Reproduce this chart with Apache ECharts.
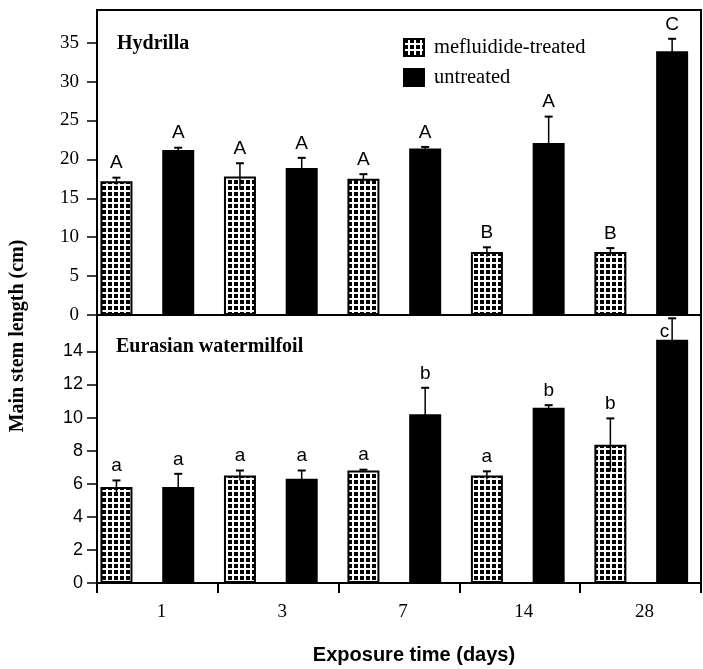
<!DOCTYPE html>
<html>
<head>
<meta charset="utf-8">
<script src="https://cdn.jsdelivr.net/npm/echarts@6/dist/echarts.min.js"></script>
<style>
  html, body { margin: 0; padding: 0; background: #fff; }
  #chart { width: 703px; height: 669px; }
</style>
</head>
<body>
<div id="chart"></div>
<script>
// exposure time (days)
var categories = ["1", "3", "7", "14", "28"];

// Hydrilla (cm)
var hydTreated = [17.2, 17.8, 17.5, 8.1, 8.1];
var hydTreatedErr = [0.45, 1.7, 0.6, 0.6, 0.5];
var hydTreatedSig = ["A", "A", "A", "B", "B"];
var hydUntreated = [21.2, 18.9, 21.4, 22.1, 33.9];
var hydUntreatedErr = [0.3, 1.3, 0.2, 3.4, 1.6];
var hydUntreatedSig = ["A", "A", "A", "A", "C"];

// Eurasian watermilfoil (cm)
var milTreated = [5.8, 6.5, 6.8, 6.5, 8.35];
var milTreatedErr = [0.4, 0.3, 0.05, 0.25, 1.6];
var milTreatedSig = ["a", "a", "a", "a", "b"];
var milUntreated = [5.8, 6.3, 10.2, 10.6, 14.7];
var milUntreatedErr = [0.8, 0.5, 1.6, 0.15, 1.3];
var milUntreatedSig = ["a", "a", "b", "b", "c"];

// tick labels
var hydTicks = [0, 5, 10, 15, 20, 25, 30, 35];
var milTicks = [0, 2, 4, 6, 8, 10, 12, 14];

var SERIF = '"Liberation Serif", "Times New Roman", serif';
var SANS = '"Liberation Sans", Arial, sans-serif';
var BAR_W = 32;
var BAR_GAP = 0.93;
var HALF_PITCH = BAR_W * (1 + BAR_GAP) / 2;
var HYD_MAX = 39.2;
var MIL_MAX = 16.2;

// checkered fill for the treated bars
function makePattern() {
  var c = document.createElement("canvas");
  c.width = 6;
  c.height = 6;
  var ctx = c.getContext("2d");
  ctx.fillStyle = "#000";
  ctx.fillRect(0, 0, 6, 6);
  ctx.fillStyle = "#fff";
  ctx.fillRect(4, 0, 2, 6);
  ctx.fillRect(0, 4, 6, 2);
  return c;
}
var pattern = { image: makePattern(), repeat: "repeat" };

function barSeries(name, axis, data, fill) {
  return {
    name: name,
    type: "bar",
    xAxisIndex: axis,
    yAxisIndex: axis,
    data: data,
    barWidth: BAR_W,
    barGap: Math.round(BAR_GAP * 100) + "%",
    itemStyle: { color: fill, borderColor: "#000", borderWidth: 2 },
    silent: true,
  };
}

// error bar + significance letter drawn through the axis scales
function errSeries(axis, side, vals, errs, sigs) {
  var data = [];
  for (var i = 0; i < vals.length; i++) {
    data.push([i, vals[i], errs[i]]);
  }
  return {
    type: "custom",
    xAxisIndex: axis,
    yAxisIndex: axis,
    data: data,
    z: 5,
    silent: true,
    renderItem: function (params, api) {
      var v = api.value(1);
      var e = api.value(2);
      var hi = api.coord([api.value(0), v + e]);
      var lo = api.coord([api.value(0), v - e]);
      var x = hi[0] + side * HALF_PITCH;
      var top = params.coordSys.y;
      var label = sigs[params.dataIndex];
      var text;
      if (hi[1] - 26 < top) {
        text = { x: x - 3, y: hi[1] + 13, align: "right", verticalAlign: "middle" };
      } else {
        text = { x: x, y: hi[1] - 5, align: "center", verticalAlign: "bottom" };
      }
      return {
        type: "group",
        children: [
          { type: "line", shape: { x1: x, y1: lo[1], x2: x, y2: hi[1] }, style: { stroke: "#000", lineWidth: 1.5 } },
          { type: "line", shape: { x1: x - 4, y1: hi[1], x2: x + 4, y2: hi[1] }, style: { stroke: "#000", lineWidth: 2 } },
          {
            type: "text",
            style: {
              x: text.x,
              y: text.y,
              text: label,
              align: text.align,
              verticalAlign: text.verticalAlign,
              fill: "#000",
              font: "19px " + SANS,
            },
          },
        ],
      };
    },
  };
}

var axisLine = { show: true, lineStyle: { color: "#000", width: 2 } };
var hidden = { show: false };

var chart = echarts.init(document.getElementById("chart"), null, { renderer: "canvas" });

var option = {
  animation: false,
  backgroundColor: "#fff",
  title: [
    { text: "Hydrilla", left: 112, top: 29, textStyle: { fontFamily: SERIF, fontWeight: "bold", fontSize: 20, color: "#000" } },
    { text: "Eurasian watermilfoil", left: 111, top: 332, textStyle: { fontFamily: SERIF, fontWeight: "bold", fontSize: 20, color: "#000" } },
  ],
  legend: {
    data: ["mefluidide-treated", "untreated"],
    orient: "vertical",
    left: 398,
    top: 32,
    itemWidth: 20,
    itemHeight: 17,
    itemGap: 9,
    icon: "rect",
    selectedMode: false,
    textStyle: { fontFamily: SERIF, fontSize: 20.5, color: "#000", padding: [0, 0, 0, 5] },
  },
  // 0,1: visible frames/axes; 2,3: bar layout (same vertical extent)
  grid: [
    { left: 97, top: 10, width: 604, height: 305, show: true, borderColor: "#000", borderWidth: 2, backgroundColor: "transparent" },
    { left: 97, top: 315, width: 604, height: 268, show: true, borderColor: "#000", borderWidth: 2, backgroundColor: "transparent" },
    { left: 85.6, top: 10, width: 617.8, height: 305 },
    { left: 85.6, top: 315, width: 617.8, height: 268 },
  ],
  xAxis: [
    {
      type: "category",
      gridIndex: 0,
      data: categories,
      axisLine: axisLine,
      axisTick: { show: false },
      axisLabel: { show: false },
    },
    {
      type: "category",
      gridIndex: 1,
      data: categories,
      axisLine: axisLine,
      axisTick: { show: true, length: 10, lineStyle: { color: "#000", width: 2 } },
      axisLabel: { margin: 20, fontFamily: SERIF, fontSize: 19, color: "#000", padding: [0, 0, 0, 8] },
    },
    { type: "category", gridIndex: 2, data: categories, show: false },
    { type: "category", gridIndex: 3, data: categories, show: false },
  ],
  yAxis: [
    {
      type: "value",
      gridIndex: 0,
      min: 0,
      max: HYD_MAX,
      axisLine: axisLine,
      splitLine: hidden,
      axisTick: { show: true, length: 10, customValues: hydTicks, lineStyle: { color: "#000", width: 1.5 } },
      axisLabel: { customValues: hydTicks, margin: 18, fontFamily: SERIF, fontSize: 19, color: "#000" },
    },
    {
      type: "value",
      gridIndex: 1,
      min: 0,
      max: MIL_MAX,
      axisLine: axisLine,
      splitLine: hidden,
      axisTick: { show: true, length: 10, customValues: milTicks, lineStyle: { color: "#000", width: 1.5 } },
      axisLabel: { customValues: milTicks, margin: 14, fontFamily: SANS, fontSize: 18, color: "#000" },
    },
    { type: "value", gridIndex: 2, min: 0, max: HYD_MAX, show: false, splitLine: hidden },
    { type: "value", gridIndex: 3, min: 0, max: MIL_MAX, show: false, splitLine: hidden },
  ],
  graphic: [
    {
      type: "text",
      x: 18,
      y: 336,
      rotation: Math.PI / 2,
      style: { text: "Main stem length (cm)", align: "center", verticalAlign: "middle", font: "bold 20px " + SERIF, fill: "#000" },
    },
    {
      type: "text",
      x: 414,
      y: 655,
      style: { text: "Exposure time (days)", align: "center", verticalAlign: "middle", font: "bold 20px " + SANS, fill: "#000" },
    },
  ],
  series: [
    barSeries("mefluidide-treated", 2, hydTreated, pattern),
    barSeries("untreated", 2, hydUntreated, "#000"),
    errSeries(2, -1, hydTreated, hydTreatedErr, hydTreatedSig),
    errSeries(2, 1, hydUntreated, hydUntreatedErr, hydUntreatedSig),
    barSeries("mefluidide-treated", 3, milTreated, pattern),
    barSeries("untreated", 3, milUntreated, "#000"),
    errSeries(3, -1, milTreated, milTreatedErr, milTreatedSig),
    errSeries(3, 1, milUntreated, milUntreatedErr, milUntreatedSig),
  ],
};

chart.setOption(option);
</script>
</body>
</html>
